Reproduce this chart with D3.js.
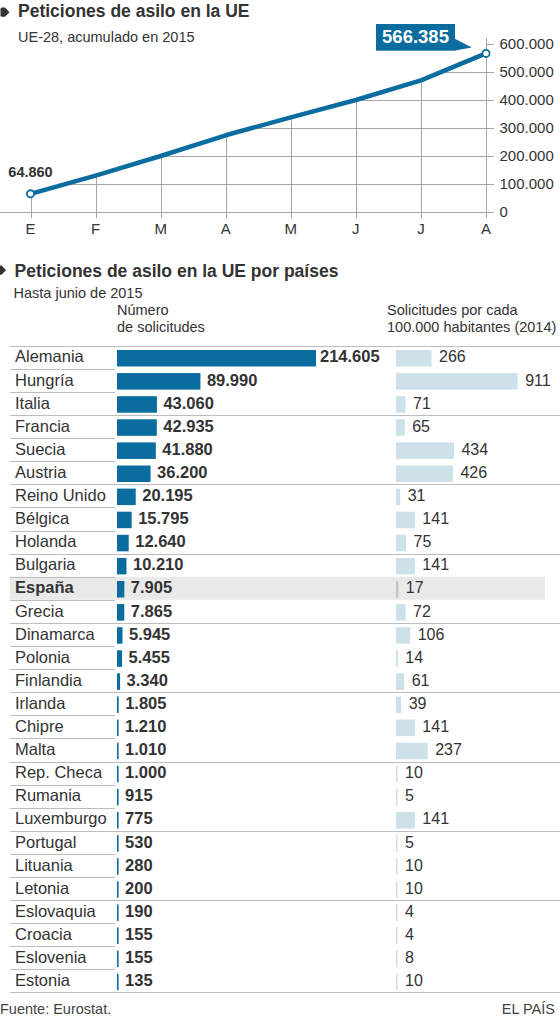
<!DOCTYPE html>
<html><head><meta charset="utf-8">
<script src="https://cdn.jsdelivr.net/npm/d3@7"></script>
<style>
body{margin:0;background:#fff}
svg text{font-family:"Liberation Sans",Arial,sans-serif;fill:#333}
</style>
</head><body><svg id="c" width="560" height="1020"></svg>
<script>
// ---- data ----
const months = ["E","F","M","A","M","J","J","A"];
const cumulative = [64860,130000,200000,274000,338000,400000,470000,566385];
const yTicks = [0,100000,200000,300000,400000,500000,600000];

const countries = ["Alemania","Hungría","Italia","Francia","Suecia","Austria","Reino Unido","Bélgica","Holanda","Bulgaria","España","Grecia","Dinamarca","Polonia","Finlandia","Irlanda","Chipre","Malta","Rep. Checa","Rumania","Luxemburgo","Portugal","Lituania","Letonia","Eslovaquia","Croacia","Eslovenia","Estonia"];
const requests = [214605,89990,43060,42935,41880,36200,20195,15795,12640,10210,7905,7865,5945,5455,3340,1805,1210,1010,1000,915,775,530,280,200,190,155,155,135];
const perCapita = [266,911,71,65,434,426,31,141,75,141,17,72,106,14,61,39,141,237,10,5,141,5,10,10,4,4,8,10];
const highlighted = "España";
const groupEnds = [2,5,8,11,14,17,20,23,27];

// ---- setup ----
const svg = d3.select("#c");
const loc = d3.formatLocale({decimal:",",thousands:".",grouping:[3],currency:["","€"]});
const fmt = loc.format(",d");
const BLUE = "#0b6ca0", LIGHT = "#cde1ea", GRID = "#a6a6a6", RULE = "#bdbdbd";

function bullet(x, y){
  svg.append("path")
    .attr("d", `M${x+1.5},${y} L${x+4.5},${y} L${x+9},${y+4.6} L${x+4.5},${y+9.2} L${x+1.5},${y+9.2} Q${x},${y+9.2} ${x},${y+7.7} L${x},${y+1.5} Q${x},${y} ${x+1.5},${y} Z`)
    .attr("fill","#333");
}

// ---- top chart ----
bullet(0.5, 7.6);
svg.append("text").attr("x",18).attr("y",16.8).style("font-size","17.5px").style("font-weight","bold").text("Peticiones de asilo en la UE");
svg.append("text").attr("x",18).attr("y",41.8).style("font-size","14.5px").text("UE-28, acumulado en 2015");

const x = d3.scalePoint().domain(d3.range(months.length)).range([30.5,486]);
const y = d3.scaleLinear().domain([0,600000]).range([212,44]);
const base = y(0);

const area = d3.area().x((d,i)=>x(i)).y0(base+6).y1(d=>y(d));
svg.append("clipPath").attr("id","under").append("path").attr("d", area(cumulative));

const grid = svg.append("g").attr("clip-path","url(#under)");
grid.selectAll("line.h").data(yTicks.slice(1)).join("line")
  .attr("x1",0).attr("x2",494).attr("y1",d=>Math.round(y(d))+0.5).attr("y2",d=>Math.round(y(d))+0.5)
  .attr("stroke",GRID).attr("stroke-width",1);
grid.selectAll("line.v").data(d3.range(months.length)).join("line")
  .attr("x1",d=>Math.round(x(d))+0.5).attr("x2",d=>Math.round(x(d))+0.5).attr("y1",30).attr("y2",base+6)
  .attr("stroke",GRID).attr("stroke-width",1);

// baseline and right axis
svg.append("line").attr("x1",0).attr("x2",494).attr("y1",Math.round(base)+0.5).attr("y2",Math.round(base)+0.5).attr("stroke",GRID);
const xr = Math.round(x(months.length-1))+0.5;
svg.append("line").attr("x1",xr).attr("x2",xr).attr("y1",38).attr("y2",base+6).attr("stroke",GRID);
svg.selectAll("line.tick").data(yTicks).join("line")
  .attr("x1",xr).attr("x2",494).attr("y1",d=>Math.round(y(d))+0.5).attr("y2",d=>Math.round(y(d))+0.5).attr("stroke",GRID);

svg.selectAll("text.yl").data(yTicks).join("text")
  .attr("x",499.5).attr("y",d=>y(d)+5.3).style("font-size","15px").text(d=>fmt(d));
svg.selectAll("text.ml").data(months).join("text")
  .attr("x",(d,i)=>x(i)).attr("y",233.5).attr("text-anchor","middle").style("font-size","15px").text(d=>d);

const line = d3.line().x((d,i)=>x(i)).y(d=>y(d));
svg.append("path").attr("d", line(cumulative)).attr("fill","none").attr("stroke",BLUE).attr("stroke-width",4.5).attr("stroke-linejoin","round");
const last = cumulative.length-1;
svg.selectAll("circle.pt").data([0,last]).join("circle")
  .attr("cx",i=>x(i)).attr("cy",i=>y(cumulative[i])).attr("r",3.6)
  .attr("fill","#fff").attr("stroke",BLUE).attr("stroke-width",1.8);

svg.append("text").attr("x",x(0)).attr("y",y(cumulative[0])-16.5).attr("text-anchor","middle")
  .style("font-size","14.5px").style("font-weight","bold").text(fmt(cumulative[0]));

// callout
const px = x(last), py = y(cumulative[last]);
const bx0 = px-110, bx1 = px-31;
svg.append("rect").attr("x",bx0).attr("y",24).attr("width",bx1-bx0).attr("height",26.7).attr("fill",BLUE);
svg.append("path").attr("d",`M${bx1-1},38.3 L${px-14.3},${py-6} L${bx1-1},50.7 Z`).attr("fill",BLUE);
svg.append("text").attr("x",(bx0+bx1)/2).attr("y",42.6).attr("text-anchor","middle")
  .style("font-size","18.5px").style("font-weight","bold").style("fill","#fff").text(fmt(cumulative[last]));

// ---- bottom table ----
bullet(-3, 265.6);
svg.append("text").attr("x",14.5).attr("y",276.8).style("font-size","17.5px").style("font-weight","bold").text("Peticiones de asilo en la UE por países");
svg.append("text").attr("x",13.5).attr("y",298.3).style("font-size","14.5px").text("Hasta junio de 2015");
const hdr = [[117,315,"Número"],[117,331.5,"de solicitudes"],[387,315,"Solicitudes por cada"],[387,331.5,"100.000 habitantes (2014)"]];
svg.selectAll("text.hdr").data(hdr).join("text").attr("x",d=>d[0]).attr("y",d=>d[1]).style("font-size","14.5px").text(d=>d[2]);

const top0 = 345.7, pitch = 23.1;
const band = d3.scaleBand().domain(countries).range([top0, top0+pitch*countries.length]).paddingInner(0).paddingOuter(0);
const xL = d3.scaleLinear().domain([0,d3.max(requests)]).range([117,316]);
const xR = d3.scaleLinear().domain([0,d3.max(perCapita)]).range([396,517.7]);

const rows = countries.map((c,i)=>({c,i,r:requests[i],p:perCapita[i]}));

// highlight
svg.selectAll("rect.hl").data(rows.filter(d=>d.c===highlighted)).join("rect")
  .attr("x",10).attr("y",d=>band(d.c)).attr("width",535).attr("height",band.bandwidth()).attr("fill","#e9e9e9");

// rules
svg.append("line").attr("x1",10).attr("x2",560).attr("y1",Math.round(top0)+0.5).attr("y2",Math.round(top0)+0.5).attr("stroke",RULE);
svg.selectAll("line.rule").data(rows).join("line")
  .attr("x1",10).attr("x2",d=>groupEnds.includes(d.i)?560:115)
  .attr("y1",d=>Math.round(band(d.c)+pitch)+0.5).attr("y2",d=>Math.round(band(d.c)+pitch)+0.5)
  .attr("stroke",RULE);

// names
svg.selectAll("text.name").data(rows).join("text")
  .attr("x",15).attr("y",d=>band(d.c)+16.7).style("font-size","16.5px")
  .style("font-weight",d=>d.c===highlighted?"bold":"normal").text(d=>d.c);

// left bars
const wL = d=>Math.max(xL(d.r)-xL(0),1.6);
svg.selectAll("rect.bl").data(rows).join("rect")
  .attr("x",xL(0)).attr("y",d=>band(d.c)+4.3).attr("width",wL).attr("height",16.5).attr("fill",BLUE);
svg.selectAll("text.vl").data(rows).join("text")
  .attr("x",d=>xL(0)+wL(d)+(d.i===0?4:6.5)).attr("y",d=>band(d.c)+16.7)
  .style("font-size","16.5px").style("font-weight","bold").text(d=>fmt(d.r));

// right bars
const wR = d=>Math.max(xR(d.p)-xR(0),1.6);
svg.selectAll("rect.br").data(rows).join("rect")
  .attr("x",xR(0)).attr("y",d=>band(d.c)+4.3).attr("width",wR).attr("height",16.5)
  .attr("fill",d=>d.c===highlighted?"#b9c7cd":LIGHT);
svg.selectAll("text.vr").data(rows).join("text")
  .attr("x",d=>xR(0)+wR(d)+7.5).attr("y",d=>band(d.c)+16.7)
  .style("font-size","16px").text(d=>fmt(d.p));

// footer
svg.append("text").attr("x",0).attr("y",1013.5).style("font-size","14.5px").style("fill","#444").text("Fuente: Eurostat.");
svg.append("text").attr("x",555).attr("y",1013.5).attr("text-anchor","end").style("font-size","14.5px").style("fill","#444").text("EL PAÍS");
</script>
</body></html>
